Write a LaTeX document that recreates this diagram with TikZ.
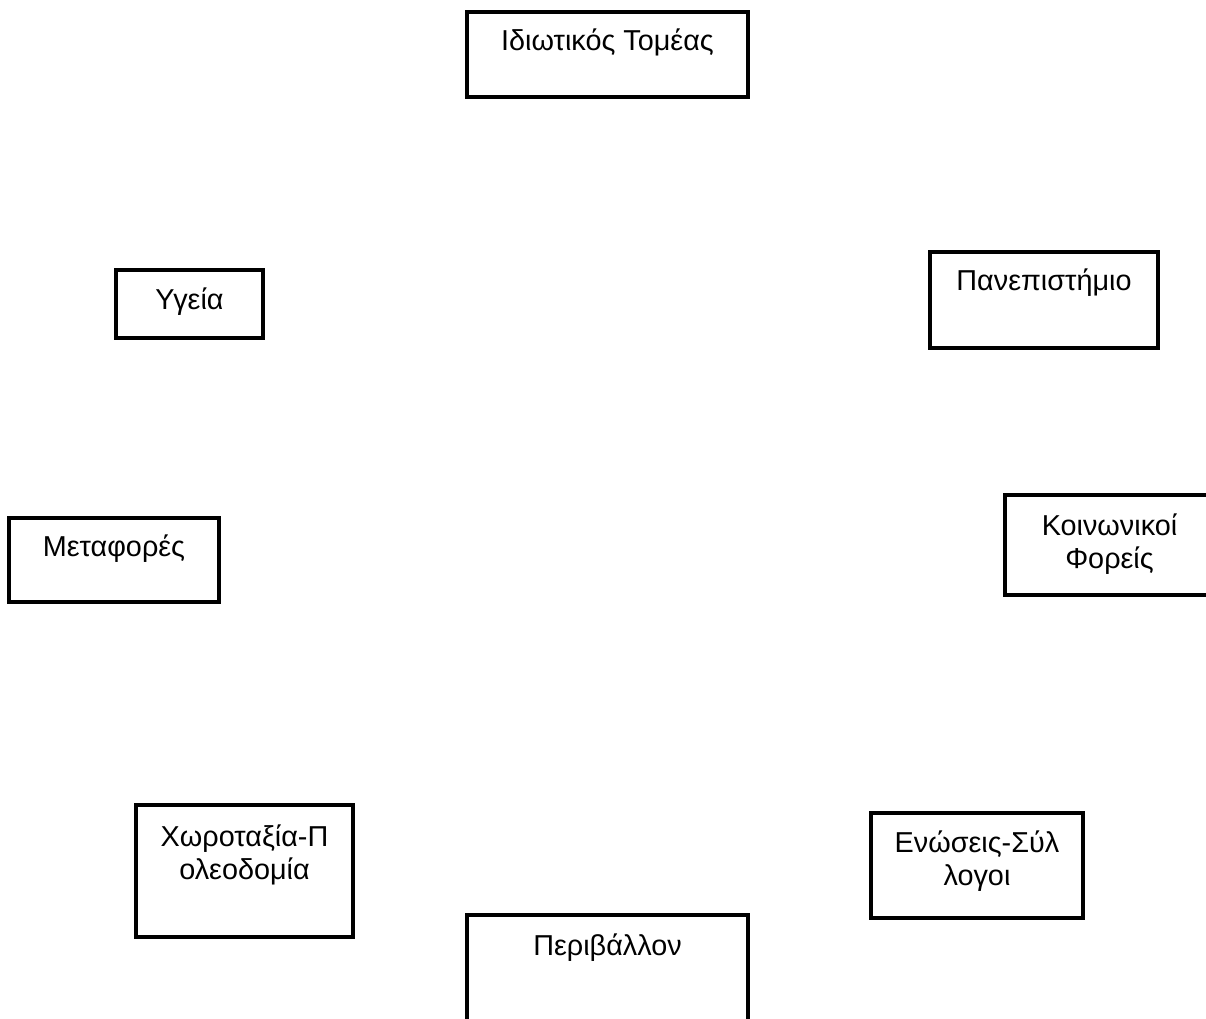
\documentclass[tikz,border=0pt]{standalone}
\usepackage{fontspec}
\setmainfont{Liberation Sans}
\begin{document}
\begin{tikzpicture}[x=1bp,y=-1bp,
  box/.style={draw, line width=3.4bp, rectangle, inner sep=0pt, outer sep=0pt},
  lbl/.style={font=\fontsize{28.8bp}{33bp}\selectfont, inner sep=0pt, anchor=base}]
\useasboundingbox (0,0) rectangle (1206,1019);
\clip (0,0) rectangle (1206,1019);
% boxes
\node[box, minimum width=281bp, minimum height=85bp]  (itm) at (607.5,54.5) {};
\node[box, minimum width=228bp, minimum height=96bp]  (pan) at (1044,300) {};
\node[box, minimum width=147bp, minimum height=68bp]  (yge) at (189.5,304) {};
\node[box, minimum width=210bp, minimum height=84bp]  (met) at (114,560) {};
\node[box, minimum width=209bp, minimum height=100bp] (koi) at (1109.5,545) {};
\node[box, minimum width=217bp, minimum height=132bp] (xor) at (244.5,871) {};
\node[box, minimum width=212bp, minimum height=105bp] (eno) at (977,865.5) {};
\node[box, minimum width=281bp, minimum height=125bp] (per) at (607.5,977.5) {};
% labels
\node[lbl] (itmT)  at (itm.center |- 0,50)  {Ιδιωτικός Τομέας};
\node[lbl] (panT)  at (pan.center |- 0,290) {Πανεπιστήμιο};
\node[lbl] (ygeT)  at (yge.center |- 0,309) {Υγεία};
\node[lbl] (metT)  at (met.center |- 0,556) {Μεταφορές};
\node[lbl] (koiT1) at (koi.center |- 0,535) {Κοινωνικοί};
\node[lbl] (koiT2) at (koi.center |- 0,568) {Φορείς};
\node[lbl] (xorT1) at (xor.center |- 0,846) {Χωροταξία-Π};
\node[lbl] (xorT2) at (xor.center |- 0,879) {ολεοδομία};
\node[lbl] (enoT1) at (eno.center |- 0,852) {Ενώσεις-Σύλ};
\node[lbl] (enoT2) at (eno.center |- 0,885) {λογοι};
\node[lbl] (perT)  at (per.center |- 0,955) {Περιβάλλον};
\end{tikzpicture}
\end{document}
